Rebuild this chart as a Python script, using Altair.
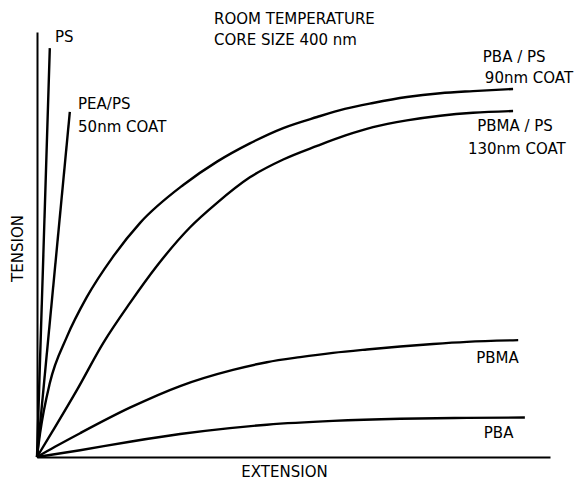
import altair as alt
import pandas as pd

# Curves (arbitrary units, extension 0-10, tension 0-10)
ps_x = [0.0, 0.25]
ps_y = [0.0, 9.62]

pea_ps_x = [0.0, 0.64]
pea_ps_y = [0.0, 8.12]

pba_ps_x = [0.0, 0.06, 0.25, 0.58, 0.97, 1.48, 2.01, 2.85, 3.51, 4.15, 4.80, 5.46, 6.00, 6.55, 7.21, 7.86, 8.50, 9.28]
pba_ps_y = [0.0, 0.56, 1.74, 2.82, 3.76, 4.71, 5.51, 6.40, 6.95, 7.38, 7.74, 8.00, 8.19, 8.33, 8.47, 8.56, 8.61, 8.66]

pbma_ps_x = [0.0, 0.31, 0.78, 1.29, 1.81, 2.34, 2.98, 3.51, 4.15, 4.80, 5.46, 6.00, 6.55, 7.21, 7.86, 8.50, 9.28]
pbma_ps_y = [0.0, 0.62, 1.58, 2.68, 3.62, 4.50, 5.40, 5.98, 6.58, 7.00, 7.32, 7.56, 7.76, 7.92, 8.03, 8.10, 8.14]

pbma_x = [0.0, 0.35, 0.84, 1.81, 2.79, 3.82, 4.48, 5.13, 5.77, 6.43, 7.08, 7.72, 8.38, 9.38]
pbma_y = [0.0, 0.24, 0.56, 1.16, 1.67, 2.05, 2.23, 2.35, 2.45, 2.53, 2.60, 2.66, 2.71, 2.75]

pba_x = [0.0, 0.84, 1.81, 2.79, 3.76, 4.48, 5.77, 7.08, 8.38, 9.51]
pba_y = [0.0, 0.16, 0.36, 0.54, 0.68, 0.76, 0.85, 0.90, 0.92, 0.93]

series = {
    "PS": (ps_x, ps_y),
    "PEA/PS": (pea_ps_x, pea_ps_y),
    "PBA/PS": (pba_ps_x, pba_ps_y),
    "PBMA/PS": (pbma_ps_x, pbma_ps_y),
    "PBMA": (pbma_x, pbma_y),
    "PBA": (pba_x, pba_y),
}

rows = []
for name, (xs, ys) in series.items():
    for i, (xv, yv) in enumerate(zip(xs, ys)):
        rows.append({"series": name, "ext": xv, "ten": yv, "i": i})
df = pd.DataFrame(rows)

label_texts = ["ROOM TEMPERATURE", "CORE SIZE 400 nm", "PS", "PEA/PS", "50nm COAT",
               "PBA / PS", "90nm COAT", "PBMA / PS", "130nm COAT", "PBMA", "PBA"]
label_x = [3.45, 3.45, 0.35, 0.80, 0.80, 8.69, 8.73, 8.58, 8.40, 8.56, 8.71]
label_y = [10.31, 9.81, 9.88, 8.31, 7.76, 9.41, 8.92, 7.79, 7.25, 2.33, 0.56]
labels = pd.DataFrame({"text": label_texts, "ext": label_x, "ten": label_y})

FONT = "DejaVu Sans"

xscale = alt.Scale(domain=[0, 10], nice=False, zero=True)
yscale = alt.Scale(domain=[0, 10], nice=False, zero=True)

lines = alt.Chart(df).mark_line(color="black", strokeWidth=2.4, interpolate="monotone").encode(
    x=alt.X("ext:Q", scale=xscale,
            axis=alt.Axis(title="EXTENSION", labels=False, ticks=False, grid=False,
                          domainColor="black", domainWidth=2,
                          titleFont=FONT, titleFontSize=15, titleFontWeight="normal",
                          titleColor="black", titleX=247, titleY=14,
                          titleBaseline="middle", titleAlign="center")),
    y=alt.Y("ten:Q", scale=yscale,
            axis=alt.Axis(title="TENSION", labels=False, ticks=False, grid=False,
                          domainColor="black", domainWidth=2,
                          titleFont=FONT, titleFontSize=15, titleFontWeight="normal",
                          titleColor="black", titleX=-20, titleY=216,
                          titleBaseline="middle", titleAlign="center")),
    detail="series:N",
    order="i:Q",
)

text = alt.Chart(labels).mark_text(font=FONT, fontSize=15, align="left",
                                   baseline="middle", color="black").encode(
    x=alt.X("ext:Q", scale=xscale),
    y=alt.Y("ten:Q", scale=yscale),
    text="text:N",
)

chart = (lines + text).properties(
    width=513, height=425,
    autosize=alt.AutoSizeParams(type="none"),
    padding={"left": 29, "top": 24, "right": 26, "bottom": 22},
    background="white",
).configure_view(stroke=None)

chart.save("out.html", embed_options={"renderer": "svg", "actions": False})
